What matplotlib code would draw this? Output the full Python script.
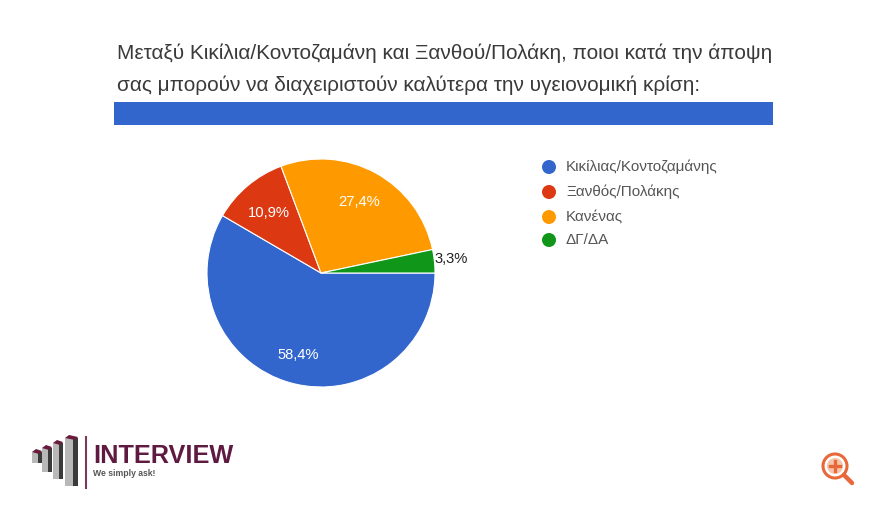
import matplotlib
matplotlib.use("Agg")
import matplotlib.pyplot as plt
from matplotlib.patches import Rectangle, Circle, Polygon

plt.rcParams['font.family'] = ['Liberation Sans', 'DejaVu Sans']

categories = ["Κικίλιας/Κοντοζαμάνης", "Ξανθός/Πολάκης", "Κανένας", "ΔΓ/ΔΑ"]
values = [58.4, 10.9, 27.4, 3.3]
labels = ["58,4%", "10,9%", "27,4%", "3,3%"]
colors = ["#3366cc", "#dc3912", "#ff9900", "#109618"]
title_lines = ["Μεταξύ Κικίλια/Κοντοζαμάνη και Ξανθού/Πολάκη, ποιοι κατά την άποψη",
               "σας μπορούν να διαχειριστούν καλύτερα την υγειονομική κρίση:"]

W, H = 880, 513
fig = plt.figure(figsize=(W/100, H/100), dpi=100, facecolor="white")
bg = fig.add_axes([0, 0, 1, 1])
bg.set_xlim(0, W); bg.set_ylim(H, 0); bg.axis("off")

for y, t in zip((53, 85), title_lines):
    bg.text(117, y, t, fontsize=14.95, color="#3a3a3a", va="center", ha="left")
bg.add_patch(Rectangle((114, 102), 659, 23, color="#3366cc", lw=0))

# pie: centre (321,273), radius 114
ax = fig.add_axes([(321-114)/W, 1-(273+114)/H, 228/W, 228/H])
wedges, _ = ax.pie(values, colors=colors, startangle=0, counterclock=False,
                   radius=1, wedgeprops=dict(edgecolor="white", linewidth=0.8))
ax.set_xlim(-1, 1); ax.set_ylim(-1, 1)
ax.set_aspect("equal")

label_pos = [(298, 355), (269, 213), (359, 202), (451, 259)]
label_col = ["white", "white", "white", "#222222"]
for (x, y), s, c in zip(label_pos, labels, label_col):
    bg.text(x, y, s, fontsize=10.6, color=c, ha="center", va="center", zorder=5)
bg.set_zorder(2); bg.patch.set_alpha(0)

for y, name, c in zip((167, 192, 217, 240), categories, colors):
    bg.add_patch(Circle((549, y), 7, color=c, lw=0))
    bg.text(566, y, name, fontsize=11, color="#555555", va="center", ha="left")

# logo
bars = [(32, 42, 452, 463), (42, 52, 448, 472), (53, 63, 443, 479), (65, 78, 438, 486)]
for x0, x1, t, b in bars:
    mid = x0 + (x1 - x0) * 0.6
    bg.add_patch(Rectangle((x0, t), mid - x0, b - t, color="#b8b8b8", lw=0))
    bg.add_patch(Rectangle((mid, t), x1 - mid, b - t, color="#3a3a3a", lw=0))
    bg.add_patch(Polygon([(x0, t), (x0 + 4, t - 3), (x1, t - 1), (x1 - 3, t + 2)],
                         closed=True, color="#6a1b3d", lw=0))
bg.plot([86, 86], [437, 488], color="#7a3a5a", lw=1.5)
bg.text(93, 456, "INTERVIEW", fontsize=18.2, fontweight="bold", color="#5e1a40", va="center", ha="left")
bg.text(93, 473, "We simply ask!", fontsize=6.2, fontweight="bold", color="#555555", va="center", ha="left")

# zoom icon
icon = "#e8683a"
bg.add_patch(Circle((835, 466), 12, fill=False, ec=icon, lw=2.2))
bg.add_patch(Circle((835, 466), 8, color="#f6c6ac", lw=0))
bg.plot([844, 852], [475, 483], color=icon, lw=3.2, solid_capstyle="round")
bg.plot([830, 840], [466, 466], color=icon, lw=2.4)
bg.plot([835, 835], [461, 471], color=icon, lw=2.4)

fig.savefig("out.png", dpi=100)
